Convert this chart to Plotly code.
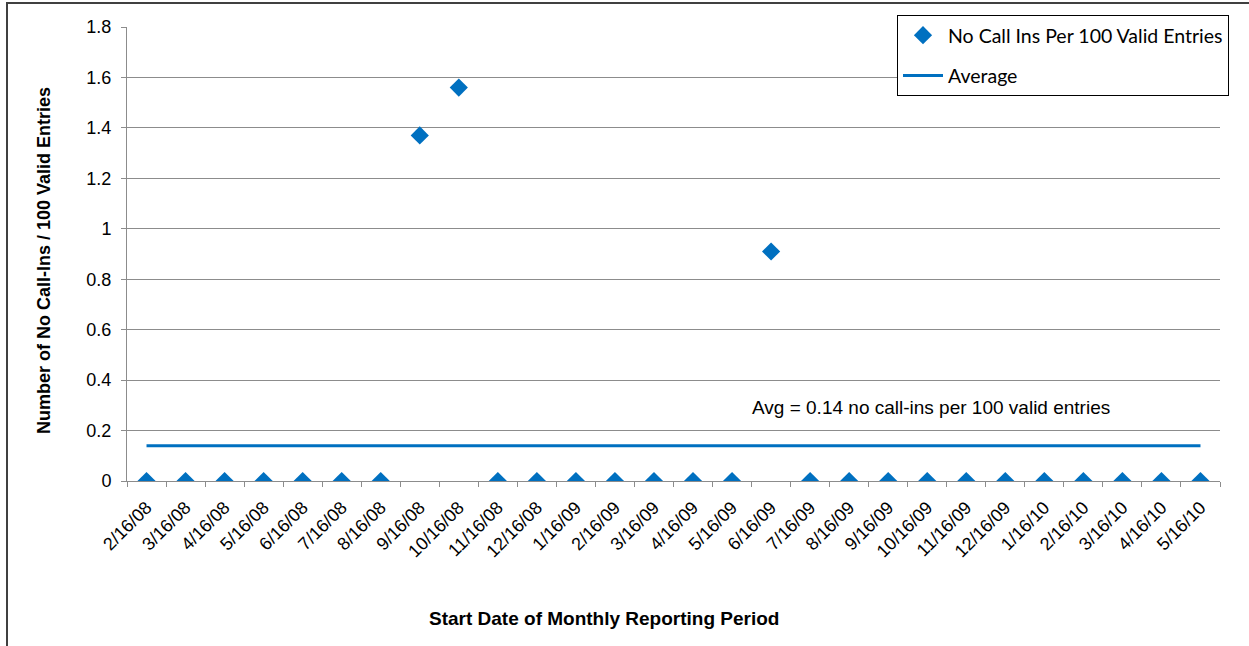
import plotly.graph_objects as go

categories = ["2/16/08", "3/16/08", "4/16/08", "5/16/08", "6/16/08", "7/16/08", "8/16/08",
              "9/16/08", "10/16/08", "11/16/08", "12/16/08", "1/16/09", "2/16/09", "3/16/09",
              "4/16/09", "5/16/09", "6/16/09", "7/16/09", "8/16/09", "9/16/09", "10/16/09",
              "11/16/09", "12/16/09", "1/16/10", "2/16/10", "3/16/10", "4/16/10", "5/16/10"]
no_call_ins = [0, 0, 0, 0, 0, 0, 0,
               1.37, 1.56, 0, 0, 0, 0, 0,
               0, 0, 0.91, 0, 0, 0, 0,
               0, 0, 0, 0, 0, 0, 0]
average_value = 0.14
average = [average_value] * len(categories)
y_ticks = [0, 0.2, 0.4, 0.6, 0.8, 1, 1.2, 1.4, 1.6, 1.8]

W, H = 1249, 646
L, R, T, B = 127, 29, 27, 165
pw, ph = W - L - R, H - T - B

def px_x(p):
    return (p - L) / pw

def px_y(p):
    return 1 - (p - T) / ph

BLUE = "#0070C0"
GRID = "#8C8C8C"

fig = go.Figure()
fig.add_trace(go.Scatter(
    x=categories, y=no_call_ins, mode="markers", name="No Call Ins Per 100 Valid Entries",
    legendgroup="a",
    marker=dict(symbol="diamond", size=14, color=BLUE, line=dict(width=0)),
))
fig.add_trace(go.Scatter(
    x=categories, y=average, mode="lines", name="Average", legendgroup="b",
    line=dict(color=BLUE, width=3),
))

fig.update_layout(
    width=W, height=H,
    margin=dict(l=L, r=R, t=T, b=B),
    plot_bgcolor="white", paper_bgcolor="white",
    font=dict(family="Liberation Sans, Arial, sans-serif", size=16, color="black"),
    showlegend=True,
    legend=dict(
        x=px_x(897), y=px_y(15), xanchor="left", yanchor="top",
        bordercolor="black", borderwidth=1, bgcolor="white",
        font=dict(family="Lato, Open Sans, sans-serif", size=19.5, color="black"),
        tracegroupgap=12, itemwidth=40,
    ),
    xaxis=dict(
        type="category", categoryorder="array", categoryarray=categories,
        range=[-0.5, len(categories) - 0.5],
        tickangle=-45, tickson="boundaries", ticks="outside", ticklen=5,
        tickcolor=GRID, showline=True, linecolor=GRID, linewidth=1,
        showgrid=False, zeroline=False, automargin=False,
        tickfont=dict(size=18), ticklabelstandoff=8,
    ),
    yaxis=dict(
        range=[0, 1.8], tickvals=y_ticks, ticktext=[f"{v:g}" for v in y_ticks],
        ticks="outside", ticklen=5, tickcolor=GRID,
        showline=True, linecolor=GRID, linewidth=1,
        showgrid=True, gridcolor=GRID, gridwidth=1, zeroline=False,
        automargin=False, tickfont=dict(size=18), ticklabelstandoff=6,
    ),
    annotations=[
        dict(
            xref="paper", yref="y", x=px_x(931), y=(481 - 407) / (454 / 1.8),
            text="Avg = 0.14 no call-ins per 100 valid entries", showarrow=False,
            font=dict(size=19), xanchor="center", yanchor="middle",
        ),
        dict(
            xref="paper", yref="paper", x=px_x(604), y=px_y(618),
            text="<b>Start Date of Monthly Reporting Period</b>", showarrow=False,
            font=dict(size=19), xanchor="center", yanchor="middle",
        ),
        dict(
            xref="paper", yref="paper", x=px_x(44), y=px_y(261),
            text="<b>Number of No Call-Ins / 100 Valid Entries</b>", showarrow=False,
            font=dict(size=18), xanchor="center", yanchor="middle", textangle=-90,
        ),
    ],
    shapes=[dict(
        type="rect", xref="paper", yref="paper",
        x0=px_x(7), x1=px_x(1300), y0=px_y(700), y1=px_y(3),
        line=dict(color="#404040", width=2), fillcolor="rgba(0,0,0,0)", layer="below",
    )],
)

fig.write_html("out.html")
